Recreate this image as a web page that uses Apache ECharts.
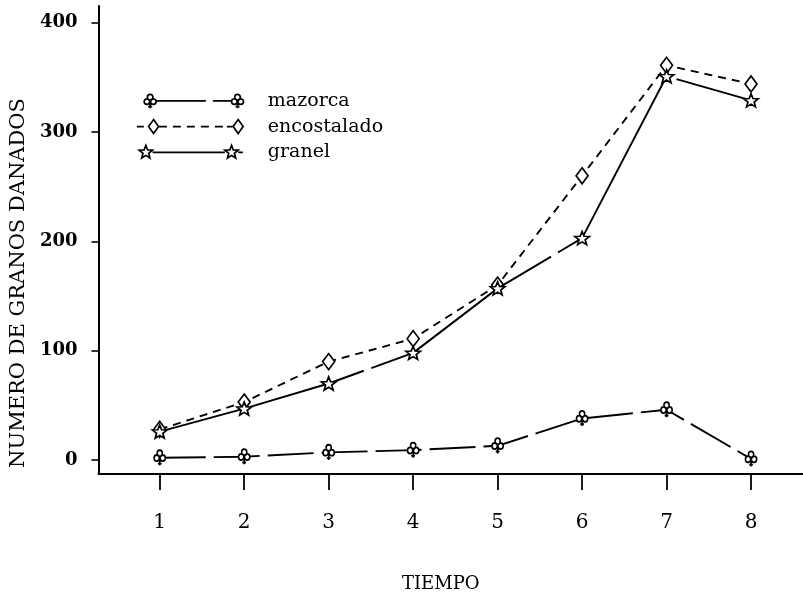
<!DOCTYPE html>
<html>
<head>
<meta charset="utf-8">
<script src="https://cdn.jsdelivr.net/npm/echarts@6/dist/echarts.min.js"></script>
<style>
html,body{margin:0;padding:0;background:#fff;}
#chart{width:803px;height:604px;}
</style>
</head>
<body>
<div id="chart"></div>
<script>
// ---- data ----
const tiempo = [1, 2, 3, 4, 5, 6, 7, 8];
const mazorca = [2, 3, 7, 9, 13, 38, 46, 1];
const encostalado = [28, 53, 90, 111, 160, 260, 361, 344];
const granel = [26, 47, 70, 98, 157, 203, 351, 329];
const yTicks = [0, 100, 200, 300, 400];
const xTicks = [1, 2, 3, 4, 5, 6, 7, 8];
const seriesNames = ['mazorca', 'encostalado', 'granel'];

// ---- symbol path helpers (styling only) ----
function circ(cx, cy, r) {
  return 'M' + (cx - r) + ' ' + cy + 'A' + r + ' ' + r + ' 0 1 0 ' + (cx + r) + ' ' + cy +
         'A' + r + ' ' + r + ' 0 1 0 ' + (cx - r) + ' ' + cy + 'Z';
}
function club(cx, cy) {
  return circ(cx, cy - 3.6, 2.8) + circ(cx - 3.2, cy + 0.8, 2.8) + circ(cx + 3.2, cy + 0.8, 2.8) +
    'M' + cx + ' ' + (cy + 2) + 'L' + cx + ' ' + (cy + 7.5) +
    'M' + (cx - 2) + ' ' + (cy + 5.8) + 'L' + (cx + 2) + ' ' + (cy + 5.8);
}
function star(cx, cy, R, r) {
  let p = '';
  for (let i = 0; i < 10; i++) {
    const a = -Math.PI / 2 + i * Math.PI / 5;
    const rad = i % 2 === 0 ? R : r;
    const x = (cx + rad * Math.cos(a)).toFixed(2);
    const y = (cy + rad * Math.sin(a)).toFixed(2);
    p += (i === 0 ? 'M' : 'L') + x + ' ' + y;
  }
  return p + 'Z';
}
function diamond(cx, cy) {
  return 'M' + cx + ' ' + (cy - 7) + 'L' + (cx + 5) + ' ' + cy + 'L' + cx + ' ' + (cy + 7) + 'L' + (cx - 5) + ' ' + cy + 'Z';
}
function seg(x1, x2, y) { return 'M' + x1 + ' ' + y + 'L' + x2 + ' ' + y; }
const box = 'M0 0L0 0M126 16L126 16';

const legMazorca = box + club(13.3, 8) + club(100.7, 8) + seg(19.3, 69, 8) + seg(76, 94.7, 8);
let legEnc = box + diamond(16.7, 8) + diamond(101.3, 8) + seg(0, 7, 8);
[22, 36, 50, 64, 78].forEach(s => { legEnc += seg(s, s + 8, 8); });
legEnc += seg(90, 95.5, 8);
const legGranel = box + star(9, 8, 7, 3) + star(94.7, 8, 7, 3) + seg(15.7, 88, 8) + seg(101.4, 106, 8);

const symClub = 'path://' + club(0, 0);
const symStar = 'path://' + star(0, 0, 7, 3);

const markStyle = { color: '#fff', borderColor: '#000', borderWidth: 1.7 };

function pairs(vals) { return tiempo.map((t, i) => [t, vals[i]]); }

const chart = echarts.init(document.getElementById('chart'), null, { renderer: 'canvas' });
chart.setOption({
  backgroundColor: '#fff',
  animation: false,
  grid: { left: 98, right: 0, top: 6, bottom: 130, containLabel: false },
  legend: {
    orient: 'vertical',
    left: 136,
    top: 91.3,
    padding: 0,
    itemWidth: 126,
    itemHeight: 16,
    itemGap: 6.8,
    selectedMode: false,
    textStyle: { fontFamily: 'DejaVu Serif', fontSize: 19, color: '#000' },
    data: [
      { name: seriesNames[0], icon: 'path://' + legMazorca, itemStyle: markStyle },
      { name: seriesNames[1], icon: 'path://' + legEnc, itemStyle: markStyle },
      { name: seriesNames[2], icon: 'path://' + legGranel, itemStyle: markStyle }
    ]
  },
  xAxis: {
    type: 'value',
    min: 0.275,
    max: 8.615,
    name: 'TIEMPO',
    nameLocation: 'middle',
    nameGap: 101,
    nameTextStyle: { fontFamily: 'DejaVu Serif', fontSize: 18, color: '#000', padding: [0, 20, 0, 0] },
    axisLine: { show: true, onZero: false, lineStyle: { color: '#000', width: 2 } },
    axisTick: { show: true, customValues: xTicks, length: 16, inside: false, lineStyle: { color: '#000', width: 1.8 } },
    axisLabel: { show: true, customValues: xTicks, margin: 39, fontFamily: 'DejaVu Serif', fontSize: 20, color: '#000' },
    splitLine: { show: false }
  },
  yAxis: {
    type: 'value',
    min: -12.8,
    max: 415.3,
    name: 'NUMERO DE GRANOS DANADOS',
    nameLocation: 'middle',
    nameRotate: 90,
    nameGap: 64,
    nameTextStyle: { fontFamily: 'DejaVu Serif', fontSize: 21, color: '#000', padding: [0, 86, 0, 0] },
    axisLine: { show: true, onZero: false, lineStyle: { color: '#000', width: 2 } },
    axisTick: { show: true, customValues: yTicks, length: 7, inside: false, lineStyle: { color: '#000', width: 1.6 } },
    axisLabel: { show: true, customValues: yTicks, margin: 21, fontFamily: 'DejaVu Serif', fontWeight: 'bold', fontSize: 18, color: '#000' },
    splitLine: { show: false }
  },
  series: [
    {
      name: seriesNames[0], type: 'line', data: pairs(mazorca),
      symbol: symClub, symbolSize: [13, 15.2], symbolKeepAspect: true,
      itemStyle: markStyle,
      lineStyle: { color: '#000', width: 1.9, type: [46, 8] },
      z: 3
    },
    {
      name: seriesNames[1], type: 'line', data: pairs(encostalado),
      symbol: 'diamond', symbolSize: [12, 16],
      itemStyle: markStyle,
      lineStyle: { color: '#000', width: 1.9, type: [8, 6] },
      z: 2
    },
    {
      name: seriesNames[2], type: 'line', data: pairs(granel),
      symbol: symStar, symbolSize: [14.5, 13.8], symbolKeepAspect: true,
      itemStyle: markStyle,
      lineStyle: { color: '#000', width: 1.9, type: [213, 8] },
      z: 4
    }
  ]
});
</script>
</body>
</html>
